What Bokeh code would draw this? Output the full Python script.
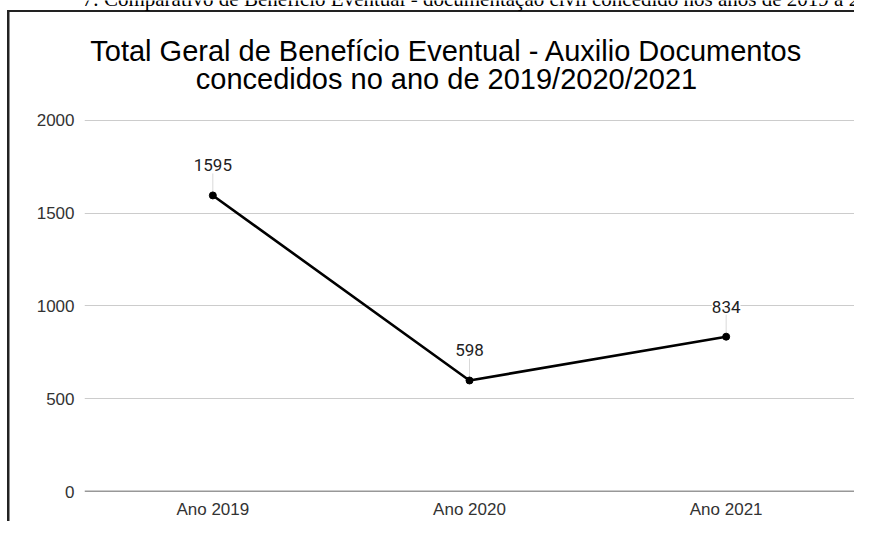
from bokeh.plotting import figure
from bokeh.models import (FactorRange, Range1d, FixedTicker, Span, Label, LabelSet,
                          ColumnDataSource)
from bokeh.core.properties import value
from bokeh.embed import file_html
from bokeh.resources import INLINE
import math

categories = ["Ano 2019", "Ano 2020", "Ano 2021"]
values = [1595, 598, 834]
value_labels = ["1595", "598", "834"]
y_ticks = [0, 500, 1000, 1500, 2000]
title_lines = ["Total Geral de Benefício Eventual - Auxilio Documentos",
               "concedidos no ano de 2019/2020/2021"]
caption = ("Gráfico 27: Comparativo de Benefício Eventual - documentação civil "
           "concedido nos anos de 2019 a 2021")

W, H = 854, 521
FRAME_TOP_PX, GRID_TOP_PX, FRAME_BOTTOM_PX = 0, 120, 492
# frame runs up to the canvas top so the title texts are drawn inside it
y_top = max(y_ticks) * (FRAME_BOTTOM_PX - FRAME_TOP_PX) / (FRAME_BOTTOM_PX - GRID_TOP_PX)

p = figure(width=W, height=H, x_range=FactorRange(factors=categories, range_padding=0),
           y_range=Range1d(0, y_top), output_backend="svg", toolbar_location=None,
           min_border_left=84, min_border_right=0, min_border_top=0,
           min_border_bottom=H - FRAME_BOTTOM_PX)
p.outline_line_color = None
p.background_fill_color = None
p.border_fill_color = None
p.styles = {
    "background": ("linear-gradient(#222,#222) 7px 9.5px / 2.5px calc(100% - 9.5px) no-repeat, "
                   "linear-gradient(#222,#222) 7px 9.5px / calc(100% - 7px) 2px no-repeat, white"),
}

# axes
for ax in (p.xaxis, p.yaxis):
    ax.axis_line_color = None
    ax.major_tick_line_color = None
    ax.minor_tick_line_color = None
    ax.major_tick_out = 0
    ax.major_tick_in = 0
    ax.minor_tick_out = 0
    ax.minor_tick_in = 0
    ax.major_label_text_font = "Liberation Sans"
    ax.major_label_text_font_size = "17px"
    ax.major_label_text_color = "#333333"
p.xaxis.major_label_standoff = 8
p.yaxis.major_label_standoff = 10
p.yaxis.ticker = FixedTicker(ticks=y_ticks)
p.xgrid.grid_line_color = None
p.ygrid.ticker = FixedTicker(ticks=y_ticks)
p.ygrid.grid_line_color = "#cccccc"
p.ygrid.grid_line_width = 1

p.add_layout(Span(location=0, dimension="width", line_color="#333333", line_width=1.5))

src = ColumnDataSource(dict(x=categories, y=values, t=value_labels))

# leader lines
p.ray(x="x", y="y", length=22, length_units="screen", angle=math.pi / 2,
      line_color="#d9d9d9", line_width=1, source=src)
p.line(x="x", y="y", line_color="black", line_width=2.6, source=src)
p.scatter(x="x", y="y", size=7, fill_color="black", line_color="black", source=src)

p.add_layout(LabelSet(x="x", y="y", text="t", source=src, y_offset=24,
                      text_align="center", text_baseline="alphabetic",
                      text_font=value("Roboto"), text_font_size="17px",
                      text_color="#222222", background_fill_color="white"))

# chart title (canvas units, y measured from the canvas top)
for line, by in zip(title_lines, [50, 78]):
    p.add_layout(Label(x=446, y=by, x_units="canvas", y_units="canvas", text=line,
                       text_align="center", text_baseline="alphabetic",
                       text_font="Liberation Sans", text_font_size="29px",
                       text_color="#000000"))

# document caption, cut at the top like in the source page
p.add_layout(Label(x=2, y=-2, x_units="canvas", y_units="canvas", text=caption,
                   text_align="left", text_baseline="alphabetic",
                   text_font="Liberation Serif", text_font_size="21px",
                   text_color="#000000"))

open("out.html", "w").write(file_html(p, INLINE))
